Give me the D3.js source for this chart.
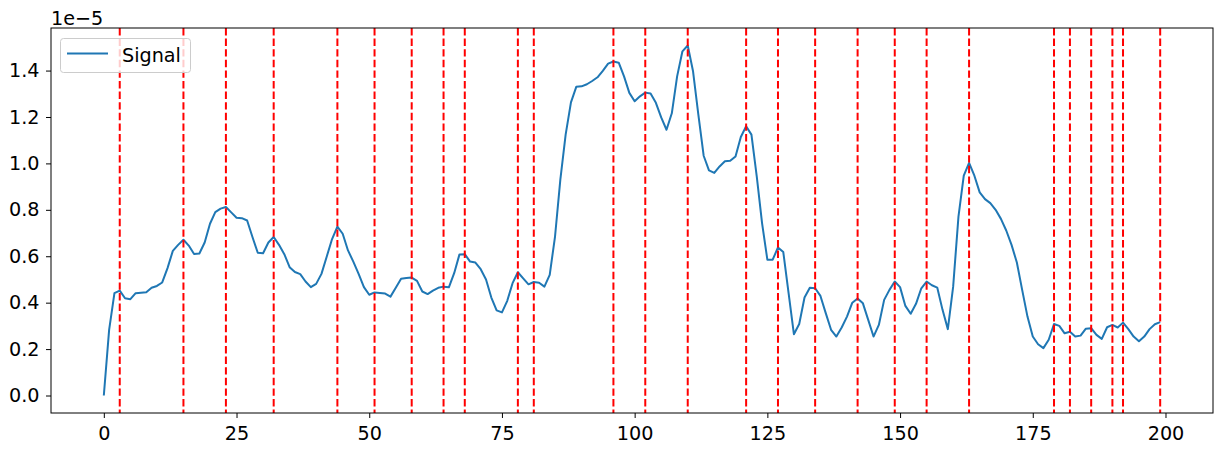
<!DOCTYPE html>
<html>
<head>
<meta charset="utf-8">
<script src="https://cdn.jsdelivr.net/npm/d3@7"></script>
<style>
  html, body { margin: 0; padding: 0; background: #fff; }
  svg { display: block; }
  text { font-family: "DejaVu Sans", sans-serif; }
</style>
</head>
<body>
<svg id="chart" width="1223" height="452"></svg>
<script>
// Signal values (units of 1e-5), index 0..199
const signal = [
  0.000, 0.283, 0.441, 0.452, 0.419, 0.415, 0.441, 0.443, 0.445, 0.464,
  0.472, 0.487, 0.549, 0.623, 0.649, 0.671, 0.646, 0.610, 0.612, 0.659,
  0.740, 0.790, 0.805, 0.812, 0.789, 0.766, 0.764, 0.754, 0.683, 0.615,
  0.613, 0.659, 0.683, 0.649, 0.609, 0.553, 0.532, 0.523, 0.491, 0.467,
  0.481, 0.524, 0.599, 0.674, 0.728, 0.697, 0.625, 0.577, 0.524, 0.467,
  0.434, 0.444, 0.442, 0.439, 0.426, 0.464, 0.503, 0.506, 0.508, 0.494,
  0.448, 0.437, 0.452, 0.464, 0.469, 0.466, 0.527, 0.608, 0.609, 0.577,
  0.573, 0.544, 0.500, 0.422, 0.367, 0.358, 0.408, 0.484, 0.531, 0.505,
  0.479, 0.489, 0.486, 0.469, 0.520, 0.685, 0.930, 1.124, 1.263, 1.330,
  1.332, 1.341, 1.355, 1.371, 1.399, 1.430, 1.439, 1.434, 1.375, 1.304,
  1.268, 1.289, 1.305, 1.301, 1.261, 1.198, 1.145, 1.216, 1.375, 1.483,
  1.508, 1.397, 1.210, 1.033, 0.970, 0.959, 0.987, 1.009, 1.011, 1.030,
  1.114, 1.160, 1.124, 0.944, 0.743, 0.585, 0.585, 0.638, 0.618, 0.441,
  0.264, 0.308, 0.422, 0.464, 0.462, 0.429, 0.355, 0.283, 0.254, 0.293,
  0.340, 0.400, 0.418, 0.397, 0.326, 0.254, 0.304, 0.412, 0.455, 0.491,
  0.467, 0.386, 0.352, 0.395, 0.462, 0.491, 0.475, 0.465, 0.369, 0.286,
  0.469, 0.771, 0.947, 1.002, 0.947, 0.875, 0.846, 0.829, 0.800, 0.761,
  0.711, 0.649, 0.573, 0.455, 0.340, 0.254, 0.221, 0.204, 0.240, 0.308,
  0.300, 0.268, 0.275, 0.254, 0.258, 0.288, 0.290, 0.261, 0.244, 0.294,
  0.304, 0.293, 0.314, 0.286, 0.254, 0.234, 0.254, 0.286, 0.307, 0.316
];
// Detected peak positions (red dashed vertical lines)
const peaks = [3, 15, 23, 32, 44, 51, 58, 64, 68, 78, 81, 96, 102, 110, 121, 127,
               134, 142, 149, 155, 163, 179, 182, 186, 190, 192, 199];
const xTicks = [0, 25, 50, 75, 100, 125, 150, 175, 200];
const yTicks = [0.0, 0.2, 0.4, 0.6, 0.8, 1.0, 1.2, 1.4];
const seriesName = "Signal";
const offsetLabel = "1e\u22125";

const svg = d3.select("#chart");
const L = 51, T = 28, R = 1213, B = 413;
const fs = 19.2;

const n = signal.length;
const xPad = (n - 1) * 0.05;
const x = d3.scaleLinear().domain([-xPad, (n - 1) + xPad]).range([L, R]);
const yMax = d3.max(signal), yMin = d3.min(signal);
const yPad = (yMax - yMin) * 0.05;
const y = d3.scaleLinear().domain([yMin - yPad, yMax + yPad]).range([B, T]);

const clipId = "plotclip";
svg.append("defs").append("clipPath").attr("id", clipId)
  .append("rect").attr("x", L).attr("y", T).attr("width", R - L).attr("height", B - T);

const plot = svg.append("g").attr("clip-path", `url(#${clipId})`);

// signal line
plot.append("path")
  .datum(signal)
  .attr("fill", "none")
  .attr("stroke", "#1f77b4")
  .attr("stroke-width", 2)
  .attr("stroke-linejoin", "round")
  .attr("stroke-linecap", "butt")
  .attr("d", d3.line().x((d, i) => x(i)).y(d => y(d)));

// peak lines
plot.selectAll("line.peak").data(peaks).join("line")
  .attr("class", "peak")
  .attr("x1", d => x(d)).attr("x2", d => x(d))
  .attr("y1", T).attr("y2", B)
  .attr("stroke", "#ff0000")
  .attr("stroke-width", 2)
  .attr("stroke-dasharray", "7.4,3.2");

// axes
const xAxis = d3.axisBottom(x).tickValues(xTicks).tickSize(5).tickPadding(8).tickFormat(d3.format("d"));
const yAxis = d3.axisLeft(y).tickValues(yTicks).tickSize(5).tickPadding(6.5).tickFormat(d3.format(".1f"));

const gx = svg.append("g").attr("transform", `translate(0,${B})`).call(xAxis);
const gy = svg.append("g").attr("transform", `translate(${L},0)`).call(yAxis);
[gx, gy].forEach(g => {
  g.select(".domain").remove();
  g.selectAll(".tick line").attr("stroke", "#000").attr("stroke-width", 1);
  g.selectAll(".tick text").attr("fill", "#000").style("font-size", fs + "px")
    .style("font-family", '"DejaVu Sans", sans-serif');
});

// frame
svg.append("rect").attr("x", L).attr("y", T).attr("width", R - L).attr("height", B - T)
  .attr("fill", "none").attr("stroke", "#000").attr("stroke-width", 1);

// offset text
svg.append("text").attr("x", L).attr("y", 25).attr("font-size", fs).attr("fill", "#000")
  .text(offsetLabel);

// legend
const lg = svg.append("g");
lg.append("rect").attr("x", 60.5).attr("y", 38.5).attr("width", 130).attr("height", 34)
  .attr("rx", 3).attr("ry", 3)
  .attr("fill", "#fff").attr("fill-opacity", 0.8)
  .attr("stroke", "#cccccc").attr("stroke-width", 1);
lg.append("line").attr("x1", 67).attr("x2", 108).attr("y1", 53.5).attr("y2", 53.5)
  .attr("stroke", "#1f77b4").attr("stroke-width", 2);
lg.append("text").attr("x", 122).attr("y", 62).attr("font-size", fs).attr("fill", "#000")
  .text(seriesName);
</script>
</body>
</html>
